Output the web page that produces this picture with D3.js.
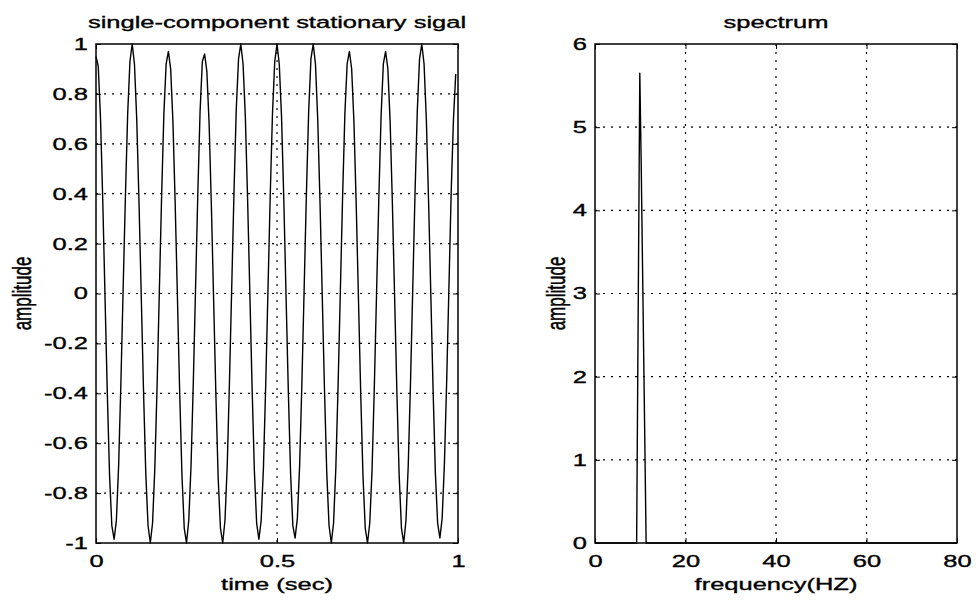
<!DOCTYPE html>
<html lang="en">
<head>
    <meta charset="UTF-8">
    <title>single-component stationary signal and spectrum</title>
    <style>
        body { margin: 0; background: #fff; }
        text { font-family: "Liberation Sans", Arial, sans-serif; font-size: 17px; fill: #000; stroke: #000; stroke-width: 0.35px; }
        .grid line { stroke: #000; stroke-width: 1.2; stroke-dasharray: 2 6; }
        .box { fill: none; stroke: #000; stroke-width: 1.5; }
        .trace { fill: none; stroke: #000; stroke-width: 1.4; stroke-linejoin: round; }
        .tick line { stroke: #000; stroke-width: 1; }
        .domain { display: none; }
    </style>
</head>
<body>
    <div id="chart"></div>

    <script src="https://d3js.org/d3.v7.min.js"></script>
    <script>
        const width = 978;
        const height = 600;
        const sx = 1.5;   // the scanned text is stretched sideways

        const fs = 160;
        const signal = [
             0.95, 0.91, 0.70, 0.37,-0.02,-0.40,-0.73,-0.93,-0.985,-0.91,-0.69,-0.36, 0.02, 0.39, 0.72, 0.93,
             1.00, 0.92, 0.70, 0.37,-0.01,-0.39,-0.72,-0.93,-1.00,-0.92,-0.70,-0.37, 0.01, 0.39, 0.72, 0.92,
             0.97, 0.90, 0.69, 0.36,-0.02,-0.40,-0.73,-0.94,-1.00,-0.91,-0.69,-0.36, 0.02, 0.40, 0.73, 0.93,
             0.96, 0.89, 0.68, 0.35,-0.03,-0.41,-0.74,-0.94,-1.00,-0.91,-0.69,-0.35, 0.03, 0.41, 0.74, 0.94,
             1.00, 0.92, 0.71, 0.38, 0.00,-0.38,-0.71,-0.92,-0.985,-0.91,-0.70,-0.37, 0.01, 0.39, 0.72, 0.93,
             1.00, 0.92, 0.71, 0.38,-0.01,-0.39,-0.72,-0.93,-0.98,-0.90,-0.69,-0.36, 0.02, 0.40, 0.73, 0.94,
             1.00, 0.92, 0.70, 0.37,-0.01,-0.39,-0.72,-0.93,-1.00,-0.92,-0.70,-0.37, 0.01, 0.39, 0.72, 0.92,
             0.97, 0.90, 0.69, 0.36,-0.02,-0.40,-0.73,-0.94,-1.00,-0.92,-0.71,-0.38, 0.00, 0.38, 0.71, 0.92,
             0.97, 0.90, 0.69, 0.36,-0.02,-0.40,-0.73,-0.94,-1.00,-0.91,-0.69,-0.36, 0.02, 0.40, 0.73, 0.94,
             1.00, 0.92, 0.70, 0.37,-0.01,-0.39,-0.72,-0.92,-0.98,-0.90,-0.68,-0.35, 0.03, 0.41, 0.70, 0.88
        ];

        // spectrum (right plot)
        const specFreq = [0, 9.2, 9.9, 10.2, 11.3, 80];
        const specMag  = [0, 0,   5.65, 4.6, 0,    0];

        // axes ticks and labels
        const timeTicks = [0, 0.5, 1];
        const timeLabels = ["0", "0.5", "1"];
        const ampTicks = [-1, -0.8, -0.6, -0.4, -0.2, 0, 0.2, 0.4, 0.6, 0.8, 1];
        const ampLabels = ["-1", "-0.8", "-0.6", "-0.4", "-0.2", "0", "0.2", "0.4", "0.6", "0.8", "1"];
        const freqTicks = [0, 20, 40, 60, 80];
        const freqLabels = ["0", "20", "40", "60", "80"];
        const magTicks = [0, 1, 2, 3, 4, 5, 6];
        const magLabels = ["0", "1", "2", "3", "4", "5", "6"];

        const svg = d3.select("#chart").append("svg")
            .attr("width", width)
            .attr("height", height);

        // stretched text helper
        function stretchedText(x, y, str, rotate) {
            return svg.append("text")
                .attr("transform", `translate(${x},${y}) scale(${sx},1)` + (rotate ? " rotate(-90)" : ""))
                .attr("text-anchor", "middle")
                .text(str);
        }

        function panel(opt) {
            const x = d3.scaleLinear().domain(opt.xDomain).range([opt.left, opt.right]);
            const y = d3.scaleLinear().domain(opt.yDomain).range([opt.bottom, opt.top]);

            // grid
            const grid = svg.append("g").attr("class", "grid");
            grid.selectAll("line.gx")
                .data(opt.xTicks.filter(d => d > opt.xDomain[0] && d < opt.xDomain[1]))
                .enter().append("line")
                .attr("x1", d => x(d)).attr("x2", d => x(d))
                .attr("y1", opt.top).attr("y2", opt.bottom);
            grid.selectAll("line.gy")
                .data(opt.yTicks.filter(d => d > opt.yDomain[0] && d < opt.yDomain[1]))
                .enter().append("line")
                .attr("x1", opt.left).attr("x2", opt.right)
                .attr("y1", d => y(d)).attr("y2", d => y(d));

            // data line
            const line = d3.line().x(d => x(d[0])).y(d => y(d[1]));
            svg.append("path")
                .datum(opt.points)
                .attr("class", "trace")
                .attr("d", line);

            // axes with inward ticks
            const xAxis = svg.append("g")
                .attr("transform", `translate(0,${opt.bottom})`)
                .call(d3.axisBottom(x).tickValues(opt.xTicks)
                    .tickFormat((d, i) => opt.xLabels[i])
                    .tickSizeInner(-5).tickSizeOuter(0).tickPadding(12));
            xAxis.selectAll("text").attr("transform", `scale(${sx},1)`);

            const yAxis = svg.append("g")
                .attr("transform", `translate(${opt.left},0)`)
                .call(d3.axisLeft(y).tickValues(opt.yTicks)
                    .tickFormat((d, i) => opt.yLabels[i])
                    .tickSizeInner(-5).tickSizeOuter(0).tickPadding(8));
            yAxis.selectAll("text")
                .attr("x", -8 / sx)
                .attr("transform", `scale(${sx},1)`);

            svg.append("g")
                .attr("transform", `translate(0,${opt.top})`)
                .call(d3.axisTop(x).tickValues(opt.xTicks).tickFormat("")
                    .tickSizeInner(-5).tickSizeOuter(0));
            svg.append("g")
                .attr("transform", `translate(${opt.right},0)`)
                .call(d3.axisRight(y).tickValues(opt.yTicks).tickFormat("")
                    .tickSizeInner(-5).tickSizeOuter(0));

            // box
            svg.append("rect")
                .attr("class", "box")
                .attr("x", opt.left).attr("y", opt.top)
                .attr("width", opt.right - opt.left)
                .attr("height", opt.bottom - opt.top);

            // labels
            const cx = (opt.left + opt.right) / 2;
            stretchedText(cx, 28, opt.title);
            stretchedText(cx, 590, opt.xTitle);
            stretchedText(opt.yTitleX, (opt.top + opt.bottom) / 2, opt.yTitle, true)
                .attr("dy", "0.35em");
        }

        panel({
            left: 96, right: 458, top: 44, bottom: 543,
            xDomain: [0, 1], yDomain: [-1, 1],
            xTicks: timeTicks, xLabels: timeLabels,
            yTicks: ampTicks, yLabels: ampLabels,
            points: signal.map((v, i) => [i / fs, v]),
            title: "single-component stationary sigal",
            xTitle: "time (sec)",
            yTitle: "amplitude",
            yTitleX: 22
        });

        panel({
            left: 595, right: 957, top: 44, bottom: 543,
            xDomain: [0, 80], yDomain: [0, 6],
            xTicks: freqTicks, xLabels: freqLabels,
            yTicks: magTicks, yLabels: magLabels,
            points: specFreq.map((f, i) => [f, specMag[i]]),
            title: "spectrum",
            xTitle: "frequency(HZ)",
            yTitle: "amplitude",
            yTitleX: 556
        });
    </script>
</body>
</html>
